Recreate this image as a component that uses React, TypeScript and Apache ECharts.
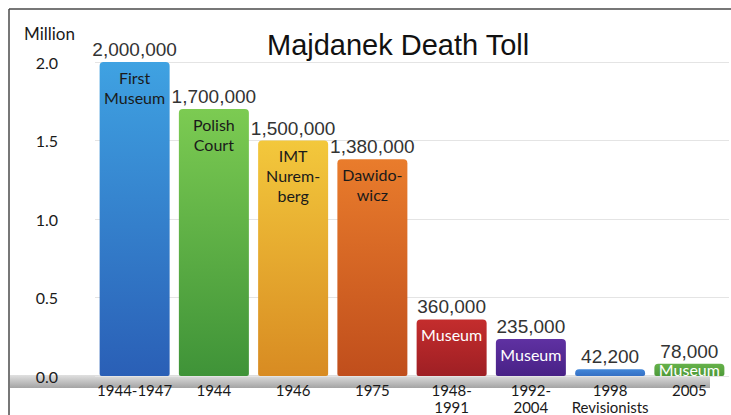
import React, { useEffect, useRef } from "react";
import * as echarts from "echarts";

const categories = ["1944-1947", "1944", "1946", "1975", "1948-\n1991", "1992-\n2004", "1998\nRevisionists", "2005"];
const deathToll = [2000000, 1700000, 1500000, 1380000, 360000, 235000, 42200, 78000];
const sourceLabels = ["First\nMuseum", "Polish\nCourt", "IMT\nNurem-\nberg", "Dawido-\nwicz", "Museum", "Museum", "", "Museum"];
const yTicks = [0, 0.5, 1.0, 1.5, 2.0];
const barTopColors = ["#3fa2e2", "#7ccb52", "#f3c83c", "#e97c2c", "#c42d2d", "#5f31a2", "#4286d8", "#66b24a"];
const barBottomColors = ["#2a5fb6", "#3f9338", "#d88b22", "#c04e1c", "#9e1f24", "#482186", "#3570c4", "#4e9a3a"];
const innerLabelColors = ["#1a1a1a", "#1a1a1a", "#1a1a1a", "#1a1a1a", "#ffffff", "#ffffff", "#ffffff", "#ffffff"];

export default function App() {
  const ref = useRef<HTMLDivElement>(null);
  useEffect(() => {
    const chart = echarts.init(ref.current!, null, { renderer: "svg" });
    const millions = deathToll.map((v) => v / 1e6);
    chart.setOption({
      animation: false,
      backgroundColor: "#ffffff",
      title: {
        text: "Majdanek Death Toll",
        left: 262,
        top: 25,
        textStyle: { fontFamily: "Liberation Sans", fontWeight: "normal", fontSize: 29, color: "#111" },
      },
      graphic: [
        { type: "line", shape: { x1: 9, y1: 9, x2: 731, y2: 9 }, style: { stroke: "#4a4a4a", lineWidth: 1.5 }, z: 10 },
        { type: "line", shape: { x1: 9, y1: 9, x2: 9, y2: 415 }, style: { stroke: "#4a4a4a", lineWidth: 1.5 }, z: 10 },
        {
          type: "rect",
          shape: { x: 10, y: 375, width: 700, height: 13 },
          style: {
            fill: new echarts.graphic.LinearGradient(0, 0, 0, 1, [
              { offset: 0, color: "#e0e0e0" },
              { offset: 0.6, color: "#bcbcbc" },
              { offset: 1, color: "#a4a4a4" },
            ]),
          },
          z: 0,
        },
      ],
      grid: { left: 95, right: 2, top: 62, bottom: 32 },
      xAxis: {
        type: "category",
        data: categories,
        axisLine: { show: false },
        axisTick: { show: false },
        axisLabel: { interval: 0, fontFamily: "Lato", fontSize: 15, lineHeight: 17, color: "#1a1a1a", margin: 5 },
      },
      yAxis: {
        type: "value",
        min: yTicks[0],
        max: yTicks[yTicks.length - 1],
        interval: 0.5,
        name: "Million",
        nameLocation: "end",
        nameGap: 29,
        nameTextStyle: { fontFamily: "Lato", fontSize: 17, color: "#1a1a1a", align: "right", verticalAlign: "middle", padding: [0, 20, 0, 0] },
        axisLine: { show: false },
        axisTick: { show: false },
        axisLabel: { formatter: (v: number) => v.toFixed(1), margin: 37, fontFamily: "Lato", fontSize: 16, color: "#1a1a1a" },
        splitLine: { lineStyle: { color: "#e4e4e4", width: 1 } },
      },
      series: [
        {
          type: "bar",
          barWidth: 70,
          z: 3,
          data: millions.map((v, i) => ({
            value: v,
            itemStyle: {
              color: new echarts.graphic.LinearGradient(0, 0, 0, 1, [
                { offset: 0, color: barTopColors[i] },
                { offset: 1, color: barBottomColors[i] },
              ]),
              borderRadius: [4, 4, 2, 2],
            },
            label: {
              color: innerLabelColors[i],
              position: v < 0.1 ? "inside" : "insideTop",
            },
          })),
          label: {
            show: true,
            position: "insideTop",
            distance: 5,
            formatter: (p: any) => sourceLabels[p.dataIndex],
            fontFamily: "Lato",
            fontSize: 16,
            lineHeight: 20,
          },
        },
        {
          type: "bar",
          barWidth: 70,
          barGap: "-100%",
          z: 4,
          itemStyle: { color: "rgba(0,0,0,0)" },
          data: millions,
          label: {
            show: true,
            position: "top",
            distance: 3,
            formatter: (p: any) => deathToll[p.dataIndex].toLocaleString("en-US"),
            fontFamily: "Liberation Sans",
            fontSize: 19,
            color: "#333",
          },
        },
      ],
    });
    return () => chart.dispose();
  }, []);
  return <div ref={ref} style={{ position: "absolute", left: 0, top: 0, width: 731, height: 415 }} />;
}
